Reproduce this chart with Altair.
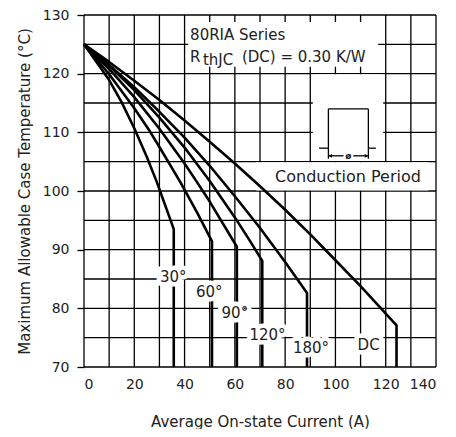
import altair as alt
import pandas as pd

FONT = "DejaVu Sans"
INK = "#222222"

# ---------------- data ----------------
curve_labels = ["30°", "60°", "90°", "120°", "180°", "DC"]

cur_30 = [0, 10, 15, 20, 25, 28.9, 35.7, 35.7]
tmp_30 = [125, 118.9, 115.1, 110.7, 105.8, 101.6, 93.5, 70]
cur_60 = [0, 10, 20, 26, 30, 38.2, 45, 50.9, 50.9]
tmp_60 = [125, 119.9, 114.1, 110.3, 107.5, 101.6, 96.3, 91.4, 70]
cur_90 = [0, 10, 20, 30, 40, 44.8, 50, 60.8, 60.8]
tmp_90 = [125, 120.8, 116.0, 110.6, 104.7, 101.6, 98.2, 90.5, 70]
cur_120 = [0, 10, 20, 30, 40, 50, 60, 66, 70.9, 70.9]
tmp_120 = [125, 121.4, 117.2, 112.5, 107.4, 101.7, 95.5, 91.5, 88.1, 70]
cur_180 = [0, 10, 20, 30, 40, 50, 60, 70, 80, 88.7, 88.7]
tmp_180 = [125, 121.5, 117.7, 113.5, 109.1, 104.3, 99.1, 93.7, 87.9, 82.6, 70]
cur_dc = [0, 10, 20, 30, 40, 50, 60, 70, 80, 90, 100, 110, 124.3, 124.3]
tmp_dc = [125, 122.0, 118.8, 115.5, 112.0, 108.4, 104.7, 100.8, 96.8, 92.6, 88.2, 83.8, 77.1, 70]

# curve label anchors
label_cur = [35.5, 49.8, 60.0, 73.0, 90.3, 113.2]
label_tmp = [85.3, 82.8, 79.2, 75.4, 73.3, 73.8]

# axes
x_tick_values = [0, 20, 40, 60, 80, 100, 120, 140]
x_grid_values = [0, 10, 20, 30, 40, 50, 60, 70, 80, 90, 100, 110, 120, 130, 140]
y_tick_values = [70, 80, 90, 100, 110, 120, 130]
y_grid_values = [70, 75, 80, 85, 90, 95, 100, 105, 110, 115, 120, 125, 130]

# white annotation boxes (data coordinates)
box_a1 = [41.4, 68.5, 91.0]
box_a2 = [117.0, 137.0, 119.0]
box_t1 = [128.8, 104.9, 119.9]
box_t2 = [121.2, 100.1, 105.1]

# annotation texts
note_text = ["80RIA Series", "R", "thJC", "(DC) = 0.30 K/W"]
note_cur = [42.2, 42.2, 47.3, 62.8]
note_tmp = [125.8, 122.0, 121.4, 122.0]
cond_text = ["Conduction Period"]
cond_cur = [76.0]
cond_tmp = [101.6]

# conduction-period pulse sketch (segments)
seg_a1 = [93.5, 97.2, 97.2, 113.1, 113.1, 97.2, 113.1, 97.2, 107.1]
seg_a2 = [97.2, 97.2, 113.1, 113.1, 116.1, 97.2, 113.1, 103.2, 113.1]
seg_t1 = [107.3, 107.3, 114.0, 114.0, 107.3, 107.3, 107.3, 106.0, 106.0]
seg_t2 = [107.3, 114.0, 114.0, 107.3, 107.3, 105.5, 105.5, 106.0, 106.0]
arrow_cur = [98.0, 112.3]
arrow_tmp = [106.0, 106.0]
arrow_shape = ["triangle-left", "triangle-right"]
phi_cur = [105.1]
phi_tmp = [106.0]

# ---------------- tables ----------------
rows = []
for name, cs, ts in zip(curve_labels,
                        [cur_30, cur_60, cur_90, cur_120, cur_180, cur_dc],
                        [tmp_30, tmp_60, tmp_90, tmp_120, tmp_180, tmp_dc]):
    for k, (c, t) in enumerate(zip(cs, ts)):
        rows.append({"curve": name, "i": k, "A": c, "T": t})
curves_df = pd.DataFrame(rows)
labels_df = pd.DataFrame({"lab": curve_labels, "A": label_cur, "T": label_tmp})
xgrid_df = pd.DataFrame({"A": x_grid_values})
ygrid_df = pd.DataFrame({"T": y_grid_values})
box_df = pd.DataFrame({"A": box_a1, "A2": box_a2, "T": box_t1, "T2": box_t2})
note_df = pd.DataFrame({"txt": note_text, "A": note_cur, "T": note_tmp})
cond_df = pd.DataFrame({"txt": cond_text, "A": cond_cur, "T": cond_tmp})
seg_df = pd.DataFrame({"A": seg_a1, "A2": seg_a2, "T": seg_t1, "T2": seg_t2})
arrow_df = pd.DataFrame({"A": arrow_cur, "T": arrow_tmp, "shape": arrow_shape})
phi_df = pd.DataFrame({"A": phi_cur, "T": phi_tmp, "txt": ["ø"]})

# ---------------- encodings ----------------
xs = alt.Scale(domain=[0, 140], nice=False, zero=False)
ys = alt.Scale(domain=[70, 130], nice=False, zero=False)

x_axis = alt.Axis(values=x_tick_values, title="Average On-state Current (A)",
                  grid=False, ticks=False, domain=False, labelPadding=10,
                  labelFont=FONT, labelFontSize=14, labelColor=INK,
                  titleFont=FONT, titleFontSize=15, titleColor=INK,
                  titleFontWeight="normal", titlePadding=23)
y_axis = alt.Axis(values=y_tick_values, title="Maximum Allowable Case Temperature (°C)",
                  grid=False, ticks=True, tickSize=7, tickColor="black", tickWidth=1.3,
                  domain=False, labelPadding=8,
                  labelFont=FONT, labelFontSize=14, labelColor=INK,
                  titleFont=FONT, titleFontSize=15, titleColor=INK,
                  titleFontWeight="normal", titlePadding=10)

X = alt.X("A:Q", scale=xs, axis=x_axis)
Y = alt.Y("T:Q", scale=ys, axis=y_axis)

vgrid = alt.Chart(xgrid_df).mark_rule(color="black", strokeWidth=1.3).encode(x=X)
hgrid = alt.Chart(ygrid_df).mark_rule(color="black", strokeWidth=1.3).encode(y=Y)

boxes = alt.Chart(box_df).mark_rect(color="white", opacity=1).encode(
    x=X, x2="A2:Q", y=Y, y2="T2:Q")

lines = alt.Chart(curves_df).mark_line(color="black", strokeWidth=2.6,
                                       strokeJoin="round").encode(
    x=X, y=Y, detail="curve:N", order="i:Q")

halo = alt.Chart(labels_df).mark_text(font=FONT, fontSize=15, stroke="white",
                                      strokeWidth=9, strokeJoin="round",
                                      fill="white", baseline="middle",
                                      align="center").encode(x=X, y=Y, text="lab:N")
labs = alt.Chart(labels_df).mark_text(font=FONT, fontSize=15, color=INK,
                                      baseline="middle", align="center").encode(
    x=X, y=Y, text="lab:N")

notes = alt.Chart(note_df).mark_text(font=FONT, fontSize=15, color=INK,
                                     baseline="alphabetic", align="left").encode(
    x=X, y=Y, text="txt:N")
cond = alt.Chart(cond_df).mark_text(font=FONT, fontSize=16, color=INK,
                                    baseline="alphabetic", align="left").encode(
    x=X, y=Y, text="txt:N")

segs = alt.Chart(seg_df).mark_rule(color="black", strokeWidth=1.3).encode(
    x=X, x2="A2:Q", y=Y, y2="T2:Q")
arrows = alt.Chart(arrow_df).mark_point(filled=True, color="black", size=14,
                                        opacity=1).encode(
    x=X, y=Y, shape=alt.Shape("shape:N", scale=None))
phi = alt.Chart(phi_df).mark_text(font=FONT, fontSize=9, color=INK, fontWeight="bold",
                                  baseline="middle", align="center").encode(
    x=X, y=Y, text="txt:N")

chart = alt.layer(vgrid, hgrid, boxes, lines, halo, labs, notes, cond, segs, arrows, phi).properties(
    width=352, height=352,
    autosize=alt.AutoSizeParams(type="none"),
    padding={"left": 76, "top": 7, "right": 12, "bottom": 62},
).configure_view(stroke=None)

chart.save("out.html", embed_options={"renderer": "svg", "actions": False})
